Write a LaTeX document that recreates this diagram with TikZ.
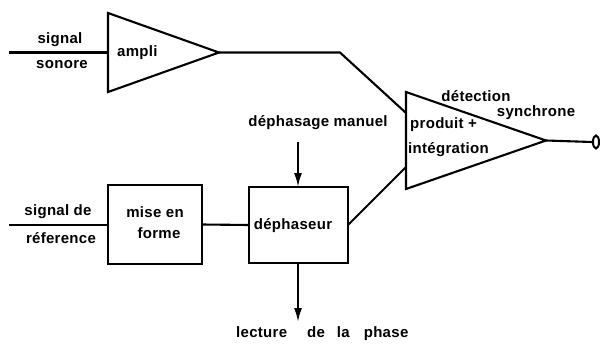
\documentclass[tikz,border=0pt]{standalone}
\usepackage{fontspec}
\setmainfont{Liberation Sans}[LetterSpace=2]
\usetikzlibrary{shapes.geometric,arrows.meta,calc}
\tikzset{
  wire/.style={line width=2.1pt},
  arr/.style={wire,-{Latex[length=14pt,width=8pt]}},
  amp/.style={draw,line width=2.1pt,shape=isosceles triangle,isosceles triangle stretches,
     inner sep=0pt,outer sep=0pt,shape border rotate=0,anchor=apex},
  blk/.style={draw,line width=2.1pt,rectangle,inner sep=0pt,outer sep=0pt},
  lbl/.style={font=\bfseries\fontsize{15}{18}\selectfont,inner sep=0pt},
  term/.style={draw,line width=2pt,ellipse,minimum width=6pt,minimum height=13pt,inner sep=0pt}
}
\begin{document}
\begin{tikzpicture}[x=1pt,y=-1pt]
\useasboundingbox (0,0) rectangle (616,343);
% blocks
\node[amp,minimum height=111pt,minimum width=79pt] (ampli) at (219,52.5) {};
\node[amp,minimum height=140pt,minimum width=97pt] (prod) at (546,140.5) {};
\node[blk,minimum width=94pt,minimum height=79pt] (mise) at (155,224.5) {};
\node[blk,minimum width=99pt,minimum height=76pt] (deph) at (298.5,225) {};
\node[term] (out) at (596,142) {};
% coordinates
\coordinate (in1) at (9,52.5);
\coordinate (in2) at (9,225);
\coordinate (bend) at (340,52.5);
\coordinate (pin1) at ($(prod.left corner)!0.216!(prod.right corner)$);
\coordinate (pin2) at ($(prod.left corner)!0.773!(prod.right corner)$);
\coordinate (mantop) at (298,142);
\coordinate (lecbot) at (298,322);
% labels
\node[lbl] (t1) at (60,40) {signal};
\node[lbl] (t2) at (62,65) {sonore};
\node[lbl,anchor=west] (t3) at (117,53) {ampli};
\node[lbl] (t4) at (58,212) {signal de};
\node[lbl] (t5) at (61,238) {réference};
\node[lbl] (t6) at (155,212) {mise en};
\node[lbl] (t7) at (159,233) {forme};
\node[lbl] (t8) at (293,226) {déphaseur};
\node[lbl] (t9) at (318,123) {déphasage manuel};
\node[lbl,anchor=west] (t10) at (236,334) {lecture\hspace{20pt}de\hspace{12pt}la\hspace{14pt}phase};
\node[lbl,anchor=west] (t11) at (410,125) {produit +};
\node[lbl,anchor=west] (t12) at (408,150) {intégration};
\node[lbl] (t13) at (476,96) {détection};
\node[lbl] (t14) at (536,113) {synchrone};
% connectors
\draw[wire] (in1) -- (ampli.west);
\draw[wire] (ampli.apex) -- (bend) -- (pin1);
\draw[wire] (in2) -- (in2 -| mise.west);
\draw[wire] (mise.east) -- (deph.west);
\draw[wire] (deph.east) -- (pin2);
\draw[wire] (prod.apex) -- (out.west);
\draw[arr] (mantop) -- (mantop |- deph.north);
\draw[arr] (lecbot |- deph.south) -- (lecbot);
\end{tikzpicture}
\end{document}
